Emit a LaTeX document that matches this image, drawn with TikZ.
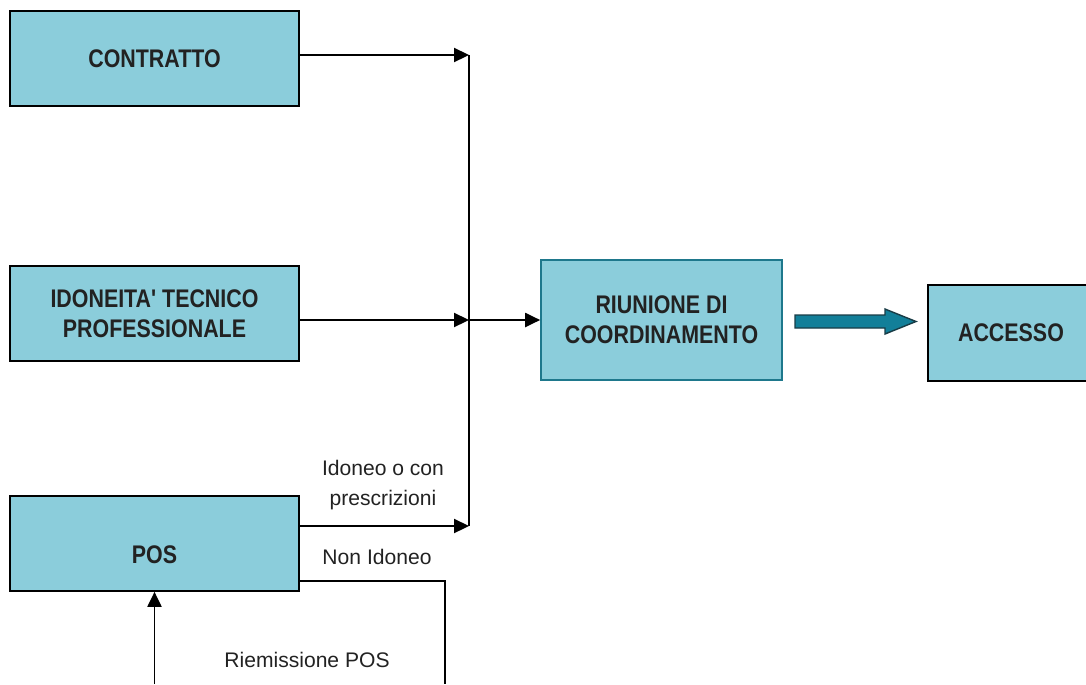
\documentclass[tikz,border=0pt]{standalone}
\usepackage{fontspec}
\setmainfont{Liberation Sans}
\newfontfamily\boxfont[FakeStretch=0.84]{Liberation Sans}
\usetikzlibrary{arrows.meta}
\definecolor{boxfill}{RGB}{139,205,219}
\definecolor{arrowfill}{RGB}{18,127,153}
\definecolor{arrowedge}{RGB}{25,60,70}
\definecolor{meetedge}{RGB}{30,120,140}
\definecolor{textgray}{RGB}{34,34,34}

\begin{document}
\begin{tikzpicture}[x=0.02cm, y=-0.02cm,
  box/.style={rectangle, draw=black, line width=1pt, fill=boxfill, align=center,
    text=textgray, font=\boxfont\bfseries\fontsize{14.5}{17}\selectfont},
  boxtext/.style={align=center, text=textgray, font=\boxfont\bfseries\fontsize{14.5}{17}\selectfont},
  note/.style={align=center, text=textgray, font=\fontsize{12}{17}\selectfont},
  flow/.style={line width=1pt, -{Triangle[length=8.5pt, width=8pt]}},
  wire/.style={line width=1pt}]
  \useasboundingbox (0,0) rectangle (1086,684);
  \node (contratto) [box, minimum width=5.78cm, minimum height=1.9cm] at (154.5, 58.5) {CONTRATTO};
  \node (idoneita) [box, minimum width=5.78cm, minimum height=1.9cm] at (154.5, 313.5) {IDONEITA' TECNICO\\PROFESSIONALE};
  \node (pos) [box, minimum width=5.78cm, minimum height=1.9cm] at (154.5, 543.5) {};
  \node (postext) [boxtext] at (154.5, 555) {POS};
  \node (riunione) [box, draw=meetedge, minimum width=4.82cm, minimum height=2.4cm] at (661.5, 320) {RIUNIONE DI\\COORDINAMENTO};
  \node (accesso) [box, minimum width=3.32cm, minimum height=1.92cm] at (1011, 333) {ACCESSO};
  \coordinate (top) at (469, 55);
  \coordinate (mid) at (469, 320);
  \coordinate (bot) at (469, 526);
  \coordinate (nonid) at (445, 581);
  \coordinate (nonidend) at (445, 684);
  \coordinate (riemiss) at (155, 684);
  \draw[flow] (contratto.east |- top) -- (top);
  \draw[flow] (idoneita.east |- mid) -- (mid);
  \draw[flow] (pos.east |- bot) -- (bot);
  \draw[wire] (top) -- (bot);
  \draw[flow] (mid) -- (riunione.west);
  \draw[wire] (pos.east |- nonid) -- (nonid) -- (nonidend);
  \draw[flow] (pos.south |- riemiss) -- (pos.south);
  % freccia verso accesso
  \draw[fill=arrowfill, draw=arrowedge, line width=0.8pt]
    (795, 315) -- (885, 315) -- (885, 309) -- (916, 321.5) -- (885, 334) -- (885, 328) -- (795, 328) -- cycle;
  \node (idoneo) [note] at (383, 485) {Idoneo o con\\prescrizioni};
  \node (nonidoneo) [note] at (377, 557) {Non Idoneo};
  \node (riemissione) [note] at (307, 660) {Riemissione POS};
\end{tikzpicture}
\end{document}
